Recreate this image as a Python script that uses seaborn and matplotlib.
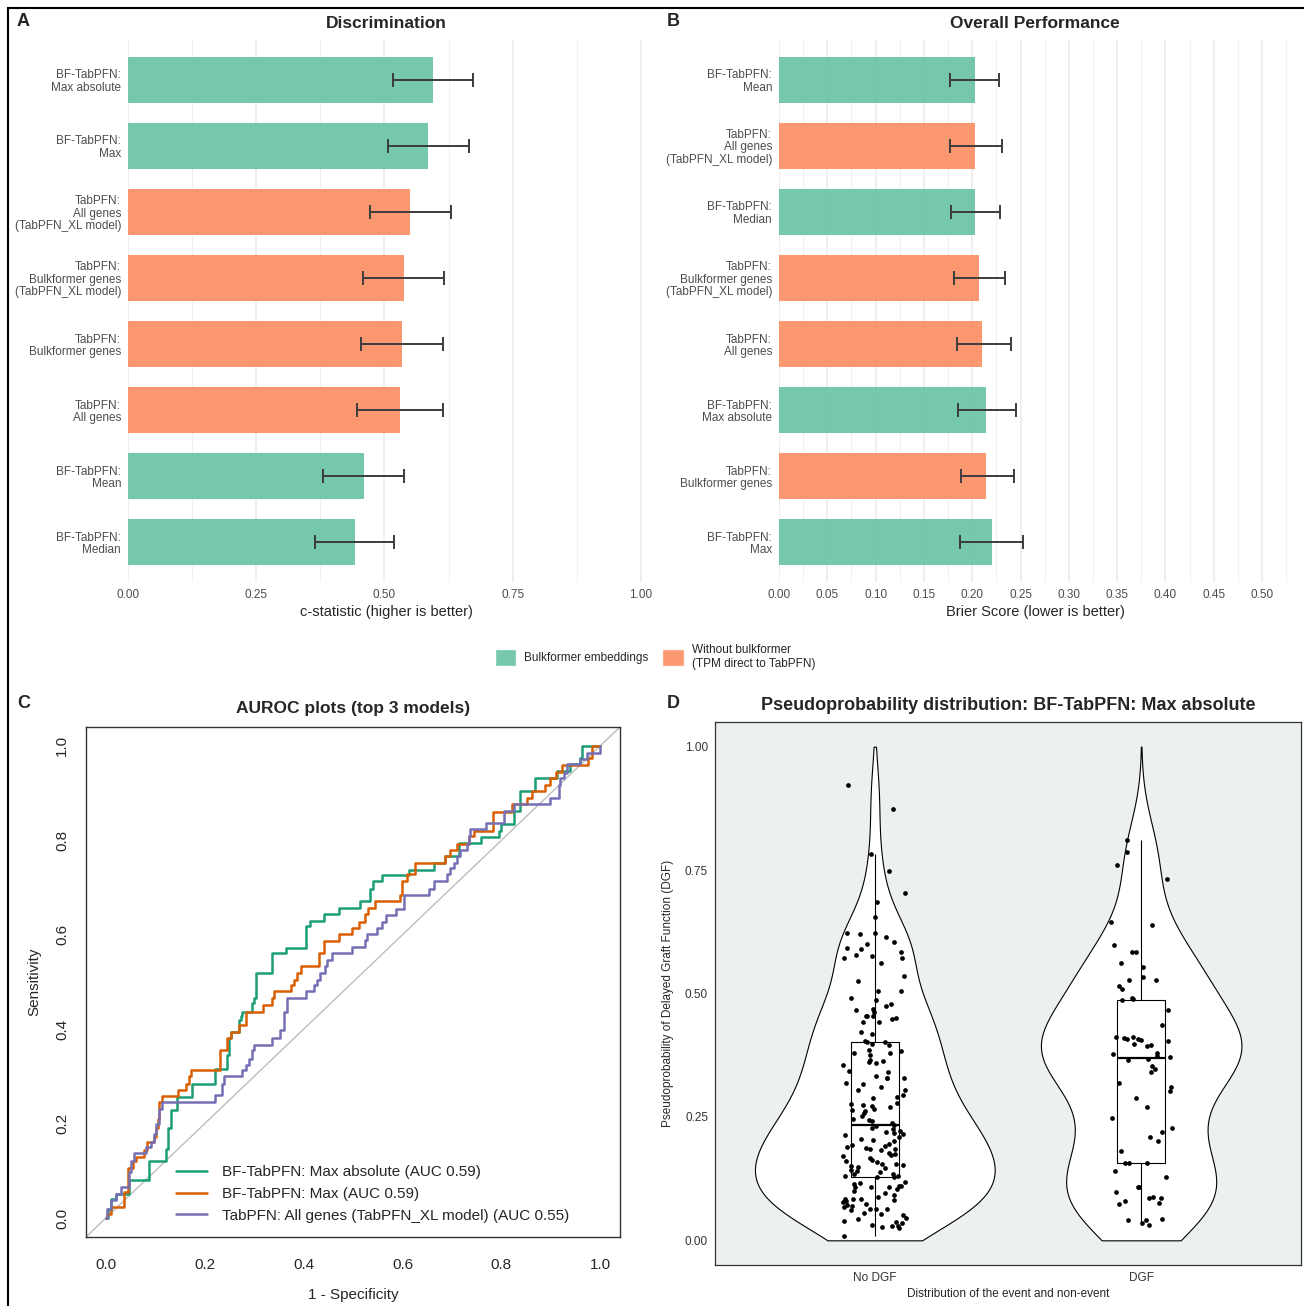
import numpy as np
import pandas as pd
import matplotlib
import matplotlib.pyplot as plt
from matplotlib.patches import Patch, Rectangle
import seaborn as sns

matplotlib.use('Agg')

# ---------------- data ----------------
GRP_BF = "Bulkformer embeddings"
GRP_TPM = "Without bulkformer\n(TPM direct to TabPFN)"

# Panel A - discrimination (c-statistic)
disc_labels = ["BF-TabPFN:\nMax absolute", "BF-TabPFN:\nMax",
               "TabPFN:\nAll genes\n(TabPFN_XL model)",
               "TabPFN:\nBulkformer genes\n(TabPFN_XL model)",
               "TabPFN:\nBulkformer genes", "TabPFN:\nAll genes",
               "BF-TabPFN:\nMean", "BF-TabPFN:\nMedian"]
disc_group = [GRP_BF, GRP_BF, GRP_TPM, GRP_TPM, GRP_TPM, GRP_TPM, GRP_BF, GRP_BF]
disc_est = [0.594, 0.585, 0.550, 0.538, 0.535, 0.530, 0.461, 0.442]
disc_lo = [0.516, 0.506, 0.471, 0.458, 0.455, 0.446, 0.380, 0.364]
disc_hi = [0.672, 0.664, 0.630, 0.617, 0.615, 0.614, 0.539, 0.518]
disc_ticks = [0.0, 0.25, 0.5, 0.75, 1.0]
disc_minor = [0.125, 0.375, 0.625, 0.875]

# Panel B - overall performance (Brier score)
brier_labels = ["BF-TabPFN:\nMean", "TabPFN:\nAll genes\n(TabPFN_XL model)",
                "BF-TabPFN:\nMedian",
                "TabPFN:\nBulkformer genes\n(TabPFN_XL model)",
                "TabPFN:\nAll genes", "BF-TabPFN:\nMax absolute",
                "TabPFN:\nBulkformer genes", "BF-TabPFN:\nMax"]
brier_group = [GRP_BF, GRP_TPM, GRP_BF, GRP_TPM, GRP_TPM, GRP_BF, GRP_TPM, GRP_BF]
brier_est = [0.203, 0.203, 0.203, 0.2075, 0.2105, 0.214, 0.214, 0.220]
brier_lo = [0.177, 0.177, 0.178, 0.181, 0.184, 0.185, 0.188, 0.187]
brier_hi = [0.228, 0.231, 0.229, 0.234, 0.240, 0.245, 0.243, 0.253]
brier_ticks = [0.0, 0.05, 0.10, 0.15, 0.20, 0.25, 0.30, 0.35, 0.40, 0.45, 0.50]
brier_minor = [0.025, 0.075, 0.125, 0.175, 0.225, 0.275, 0.325, 0.375, 0.425, 0.475, 0.525]

# Panel C - ROC curves (plateau start points, step curves)
roc_names = ["BF-TabPFN: Max absolute", "BF-TabPFN: Max", "TabPFN: All genes (TabPFN_XL model)"]
roc_auc = [0.59, 0.59, 0.55]
fpr_maxabs = [0.000, 0.005, 0.010, 0.020, 0.047, 0.088, 0.121, 0.125, 0.131, 0.145, 0.175,
              0.221, 0.246, 0.249, 0.253, 0.269, 0.273, 0.276, 0.296, 0.300, 0.303, 0.337,
              0.364, 0.404, 0.414, 0.441, 0.471, 0.515, 0.535, 0.541, 0.559, 0.613, 0.663,
              0.687, 0.714, 0.758, 0.795, 0.799, 0.825, 0.837, 0.869, 0.912, 0.939, 0.960,
              0.963, 1.000]
tpr_maxabs = [0.000, 0.020, 0.041, 0.052, 0.080, 0.121, 0.147, 0.190, 0.229, 0.257, 0.285,
              0.315, 0.345, 0.381, 0.395, 0.420, 0.427, 0.437, 0.455, 0.466, 0.519, 0.561,
              0.573, 0.618, 0.630, 0.643, 0.657, 0.671, 0.696, 0.713, 0.726, 0.738, 0.752,
              0.766, 0.795, 0.807, 0.820, 0.835, 0.862, 0.904, 0.931, 0.947, 0.961, 0.975,
              1.000, 1.000]
fpr_max = [0.000, 0.003, 0.010, 0.037, 0.044, 0.056, 0.061, 0.077, 0.084, 0.098, 0.101,
           0.105, 0.108, 0.114, 0.147, 0.162, 0.168, 0.172, 0.232, 0.246, 0.253, 0.269,
           0.283, 0.317, 0.337, 0.340, 0.374, 0.380, 0.387, 0.394, 0.431, 0.441, 0.471,
           0.498, 0.512, 0.525, 0.530, 0.545, 0.596, 0.599, 0.609, 0.626, 0.687, 0.697,
           0.710, 0.734, 0.744, 0.784, 0.822, 0.852, 0.862, 0.889, 0.899, 0.911, 0.923,
           0.976, 0.983, 1.000]
tpr_max = [0.000, 0.009, 0.023, 0.055, 0.106, 0.120, 0.130, 0.145, 0.161, 0.172, 0.190,
           0.210, 0.245, 0.259, 0.271, 0.285, 0.300, 0.314, 0.356, 0.381, 0.395, 0.409,
           0.437, 0.452, 0.466, 0.480, 0.494, 0.505, 0.519, 0.533, 0.561, 0.587, 0.602,
           0.614, 0.628, 0.643, 0.657, 0.671, 0.684, 0.713, 0.728, 0.752, 0.766, 0.779,
           0.793, 0.809, 0.820, 0.860, 0.876, 0.890, 0.904, 0.917, 0.931, 0.945, 0.960,
           0.975, 1.000, 1.000]
fpr_all = [0.000, 0.003, 0.010, 0.020, 0.030, 0.047, 0.052, 0.057, 0.081, 0.091, 0.098,
           0.101, 0.108, 0.113, 0.221, 0.236, 0.240, 0.276, 0.283, 0.290, 0.296, 0.300,
           0.337, 0.352, 0.360, 0.367, 0.404, 0.421, 0.428, 0.434, 0.444, 0.448, 0.458,
           0.498, 0.525, 0.529, 0.549, 0.559, 0.566, 0.586, 0.603, 0.653, 0.663, 0.690,
           0.697, 0.704, 0.710, 0.717, 0.731, 0.734, 0.737, 0.768, 0.805, 0.825, 0.899,
           0.916, 0.919, 0.926, 0.933, 0.960, 0.973, 1.000]
tpr_all = [0.000, 0.020, 0.038, 0.052, 0.066, 0.098, 0.120, 0.138, 0.151, 0.161, 0.179,
           0.200, 0.232, 0.245, 0.260, 0.285, 0.300, 0.314, 0.324, 0.338, 0.356, 0.367,
           0.381, 0.398, 0.437, 0.466, 0.480, 0.494, 0.505, 0.519, 0.533, 0.547, 0.561,
           0.575, 0.590, 0.602, 0.614, 0.628, 0.641, 0.655, 0.684, 0.698, 0.713, 0.728,
           0.742, 0.752, 0.766, 0.779, 0.792, 0.809, 0.823, 0.836, 0.862, 0.876, 0.890,
           0.918, 0.932, 0.943, 0.961, 0.972, 0.986, 1.000]

# Panel D - pseudoprobabilities per outcome group
prob_nodgf = [0.923, 0.873, 0.783, 0.749, 0.704, 0.686, 0.655, 0.623, 0.621, 0.622, 0.614,
              0.605, 0.600, 0.592, 0.590, 0.584, 0.578, 0.576, 0.572, 0.571, 0.562, 0.535,
              0.526, 0.505, 0.505, 0.491, 0.487, 0.478, 0.474, 0.468, 0.466, 0.463, 0.454,
              0.454, 0.454, 0.450, 0.448, 0.442, 0.442, 0.421, 0.417, 0.404, 0.402, 0.401,
              0.398, 0.396, 0.385, 0.383, 0.379, 0.379, 0.375, 0.366, 0.363, 0.359, 0.361,
              0.355, 0.344, 0.340, 0.332, 0.329, 0.328, 0.328, 0.318, 0.316, 0.310, 0.304,
              0.304, 0.294, 0.291, 0.288, 0.279, 0.277, 0.274, 0.273, 0.270, 0.266, 0.265,
              0.261, 0.258, 0.251, 0.245, 0.243, 0.241, 0.237, 0.233, 0.232, 0.228, 0.225,
              0.221, 0.219, 0.217, 0.215, 0.214, 0.210, 0.206, 0.204, 0.202, 0.196, 0.194,
              0.192, 0.190, 0.188, 0.186, 0.184, 0.182, 0.176, 0.174, 0.172, 0.170, 0.166,
              0.162, 0.160, 0.158, 0.154, 0.154, 0.153, 0.151, 0.148, 0.147, 0.143, 0.140,
              0.139, 0.135, 0.135, 0.131, 0.130, 0.129, 0.128, 0.119, 0.117, 0.115, 0.111,
              0.111, 0.109, 0.109, 0.107, 0.103, 0.099, 0.095, 0.091, 0.087, 0.084, 0.084,
              0.084, 0.082, 0.080, 0.077, 0.074, 0.072, 0.069, 0.068, 0.064, 0.064, 0.063,
              0.061, 0.056, 0.054, 0.052, 0.046, 0.043, 0.040, 0.038, 0.035, 0.032, 0.030,
              0.028, 0.027, 0.024, 0.009]
prob_dgf = [0.810, 0.786, 0.760, 0.732, 0.645, 0.639, 0.598, 0.585, 0.584, 0.562, 0.554,
            0.533, 0.527, 0.527, 0.515, 0.509, 0.490, 0.488, 0.486, 0.466, 0.437, 0.412,
            0.412, 0.410, 0.408, 0.407, 0.405, 0.403, 0.397, 0.395, 0.394, 0.379, 0.377,
            0.374, 0.371, 0.367, 0.366, 0.353, 0.348, 0.340, 0.318, 0.310, 0.303, 0.288,
            0.270, 0.247, 0.228, 0.220, 0.210, 0.202, 0.180, 0.157, 0.157, 0.156, 0.140,
            0.129, 0.109, 0.109, 0.097, 0.087, 0.086, 0.085, 0.080, 0.076, 0.074, 0.044,
            0.042, 0.042, 0.035, 0.031]
outcome_names = ["No DGF", "DGF"]

# ---------------- style ----------------
W, H = 1304, 1306
sns.set_style("white")
plt.rcParams['font.family'] = ['Liberation Sans', 'DejaVu Sans']

GREEN, ORANGE = "#66C2A5", "#FC8D62"
pal = {GRP_BF: GREEN, GRP_TPM: ORANGE}
ROC_COLS = ["#1B9E77", "#D95F02", "#7570B3"]
GREY_TXT = "#4D4D4D"


def px(x0, y0, x1, y1):
    return [x0 / W, 1 - y1 / H, (x1 - x0) / W, (y1 - y0) / H]


fig = plt.figure(figsize=(W / 100, H / 100), dpi=100)


def bar_panel(ax, labels, groups, est, lo, hi, xmax, ticks, minor, xlabel, title):
    df = pd.DataFrame({"model": labels, "group": groups, "value": est})
    sns.barplot(data=df, x="value", y="model", hue="group", palette=pal, order=labels,
                dodge=False, width=0.7, alpha=0.9, saturation=1, linewidth=0,
                legend=False, ax=ax)
    pos = np.arange(len(labels))
    ax.errorbar(est, pos, xerr=[np.subtract(est, lo), np.subtract(hi, est)], fmt="none",
                ecolor="#3C3C3C", elinewidth=1.4, capsize=5, capthick=1.4, zorder=5)
    ax.set_xlim(0, xmax)
    ax.set_ylim(len(labels) - 0.4, -0.6)
    ax.set_xticks(ticks)
    ax.set_xticklabels([f"{t:.2f}" for t in ticks])
    ax.set_xticks(minor, minor=True)
    ax.grid(axis="x", which="major", color="#EBEBEB", lw=1.1)
    ax.grid(axis="x", which="minor", color="#F0F0F0", lw=0.8)
    ax.grid(axis="y", visible=False)
    ax.set_axisbelow(True)
    for s in ax.spines.values():
        s.set_visible(False)
    ax.tick_params(axis="both", which="both", length=0, pad=5, labelsize=8.5,
                   labelcolor=GREY_TXT)
    for t in ax.get_yticklabels():
        t.set_linespacing(1.05)
    ax.set_ylabel("")
    ax.set_xlabel(xlabel, fontsize=10.5, labelpad=3)
    ax.set_title(title, fontsize=12.5, fontweight="bold", pad=9)


axA = fig.add_axes(px(128, 40, 645, 582))
bar_panel(axA, disc_labels, disc_group, disc_est, disc_lo, disc_hi, 1.008,
          disc_ticks, disc_minor, "c-statistic (higher is better)", "Discrimination")

axB = fig.add_axes(px(779, 40, 1291, 582))
bar_panel(axB, brier_labels, brier_group, brier_est, brier_lo, brier_hi, 0.53,
          brier_ticks, brier_minor, "Brier Score (lower is better)", "Overall Performance")

fig.legend(handles=[Patch(facecolor=GREEN, alpha=0.9, label=GRP_BF),
                    Patch(facecolor=ORANGE, alpha=0.9, label=GRP_TPM)],
           loc="center", bbox_to_anchor=(655 / W, 1 - 657 / H), ncol=2, frameon=False,
           fontsize=8.5, handlelength=1.8, handleheight=1.9, columnspacing=1.2,
           handletextpad=0.7)

# ---------------- panel C ----------------
axC = fig.add_axes(px(86, 727, 620, 1237))
axC.axline((0, 0), (1, 1), color="#BDBDBD", lw=1.0, zorder=1)
for fpr, tpr, name, auc, col in zip([fpr_maxabs, fpr_max, fpr_all],
                                    [tpr_maxabs, tpr_max, tpr_all],
                                    roc_names, roc_auc, ROC_COLS):
    axC.plot(fpr, tpr, drawstyle="steps-post", color=col, lw=1.8,
             label=f"{name} (AUC {auc:.2f})", zorder=3)
axC.set_xlim(-0.04, 1.04)
axC.set_ylim(-0.04, 1.04)
ticks01 = [0.0, 0.2, 0.4, 0.6, 0.8, 1.0]
axC.set_xticks(ticks01)
axC.set_yticks(ticks01)
axC.set_xticklabels([f"{t:.1f}" for t in ticks01])
axC.set_yticklabels([f"{t:.1f}" for t in ticks01], rotation=90, va="center")
axC.tick_params(axis="both", direction="out", length=6, width=1, labelsize=11,
                color="#333333")
axC.tick_params(axis="x", pad=9)
axC.tick_params(axis="y", pad=6)
for s in axC.spines.values():
    s.set_color("#333333")
    s.set_linewidth(1.0)
axC.set_xlabel("1 - Specificity", fontsize=11, labelpad=12)
axC.set_ylabel("Sensitivity", fontsize=11, labelpad=10)
axC.set_title("AUROC plots (top 3 models)", fontsize=12.5, fontweight="bold", pad=10)
axC.legend(loc="lower left", bbox_to_anchor=(0.155, 0.013), frameon=False, fontsize=11,
           handlelength=2.0, handletextpad=1.0, labelspacing=0.5, borderpad=0)

# ---------------- panel D ----------------
axD = fig.add_axes(px(715, 722, 1301, 1265))
axD.set_facecolor("#ECF0F1")
df_d = pd.DataFrame({
    "outcome": [outcome_names[0]] * len(prob_nodgf) + [outcome_names[1]] * len(prob_dgf),
    "prob": prob_nodgf + prob_dgf,
})

# violins: gaussian KDE (nrd0 bandwidth), area-scaled, cut to the [0, 1] scale limits
grid = np.linspace(0, 1, 600)
dens = []
for vals in [prob_nodgf, prob_dgf]:
    v = np.asarray(vals)
    iqr = np.subtract(*np.percentile(v, [75, 25]))
    bw = 0.9 * min(v.std(ddof=1), iqr / 1.34) * len(v) ** -0.2
    k = np.exp(-0.5 * ((grid[:, None] - v[None, :]) / bw) ** 2)
    dens.append(k.sum(axis=1) / (len(v) * bw * np.sqrt(2 * np.pi)))
dmax = max(d.max() for d in dens)
for i, d in enumerate(dens):
    hw = d / dmax * 0.45
    axD.fill_betweenx(grid, i - hw, i + hw, facecolor="white", edgecolor="black",
                      lw=0.8, zorder=1)

sns.boxplot(data=df_d, x="outcome", y="prob", order=outcome_names, width=0.18,
            fill=False, color="black", linewidth=0.8, showcaps=False, showfliers=False,
            medianprops=dict(linewidth=1.6), ax=axD, zorder=2)
np.random.seed(7)
sns.stripplot(data=df_d, x="outcome", y="prob", order=outcome_names, color="black",
              size=3.4, jitter=0.12, ax=axD, zorder=3)
axD.set_xlim(-0.6, 1.6)
axD.set_ylim(-0.05, 1.05)
axD.set_yticks([0, 0.25, 0.5, 0.75, 1.0])
axD.set_yticklabels(["0.00", "0.25", "0.50", "0.75", "1.00"])
axD.tick_params(axis="both", length=0, pad=5, labelsize=8.5, labelcolor="#333333")
for s in axD.spines.values():
    s.set_visible(True)
    s.set_color("#333333")
    s.set_linewidth(0.9)
axD.set_xlabel("Distribution of the event and non-event", fontsize=8.5, labelpad=3)
axD.set_ylabel("Pseudoprobability of Delayed Graft Function (DGF)", fontsize=8.5,
               labelpad=8)
axD.set_title("Pseudoprobability distribution: BF-TabPFN: Max absolute", fontsize=13,
              fontweight="bold", pad=9)

# ---------------- panel letters & frame ----------------
for letter, x, y in [("A", 17, 22), ("B", 667, 22), ("C", 17, 704), ("D", 667, 704)]:
    fig.text(x / W, 1 - y / H, letter, fontsize=13, fontweight="bold", va="center",
             ha="left")
fig.patches.append(Rectangle((8 / W, -0.01), 1.0, 1.01 - 8 / H, transform=fig.transFigure,
                             fill=False, lw=1.5, ec="black"))

fig.savefig("out.png", dpi=100)
plt.close(fig)
